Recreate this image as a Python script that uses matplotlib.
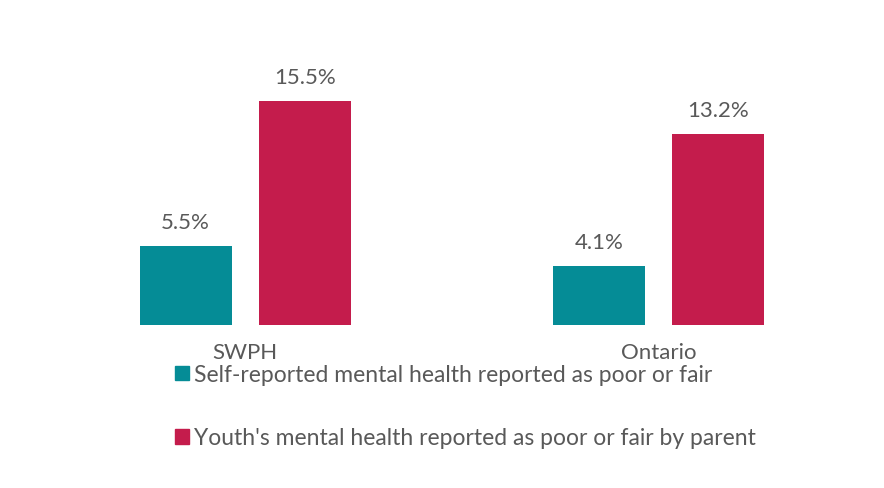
import numpy as np
import matplotlib.pyplot as plt
from matplotlib.patches import Patch

# Regionen und Werte (Prozent)
regions = ["SWPH", "Ontario"]
self_reported = [5.5, 4.1]
parent_reported = [15.5, 13.2]
series_names = [
    "Self-reported mental health reported as poor or fair",
    "Youth's mental health reported as poor or fair by parent",
]

teal = "#058C96"
crimson = "#C41C4C"
grey = "#595959"

plt.rcParams['font.family'] = ['Lato', 'DejaVu Sans']

fig = plt.figure(figsize=(8.84, 4.89), dpi=100)
ax = fig.add_axes([38.5 / 884, (489 - 326) / 489, 826.5 / 884, 260 / 489])

x = np.arange(len(regions))
w = 0.223
off = 0.144

bars1 = ax.bar(x - off, self_reported, w, color=teal)
bars2 = ax.bar(x + off, parent_reported, w, color=crimson)

#Werte über den Balken
for bars, vals in [(bars1, self_reported), (bars2, parent_reported)]:
    for b, v in zip(bars, vals):
        ax.annotate(f"{v}%", (b.get_x() + b.get_width() / 2, v),
                    xytext=(0, 10), textcoords="offset points",
                    ha="center", va="bottom", fontsize=16, color=grey)

ax.set_xlim(-0.5, 1.5)
ax.set_ylim(0, 18)
ax.set_xticks(x)
ax.set_xticklabels(regions, fontsize=16, color=grey)
ax.tick_params(axis='x', length=0, pad=12)
ax.set_yticks([])
for s in ax.spines.values():
    s.set_visible(False)

handles = [Patch(color=teal), Patch(color=crimson)]
fig.legend(handles, series_names, loc="upper left",
           bbox_to_anchor=(175 / 884, 1 - 365 / 489),
           frameon=False, fontsize=16.5, labelcolor=grey,
           handlelength=0.6, handleheight=0.6, handletextpad=0.25,
           labelspacing=1.85, borderaxespad=0, borderpad=0)

fig.savefig("out.png", dpi=100)
